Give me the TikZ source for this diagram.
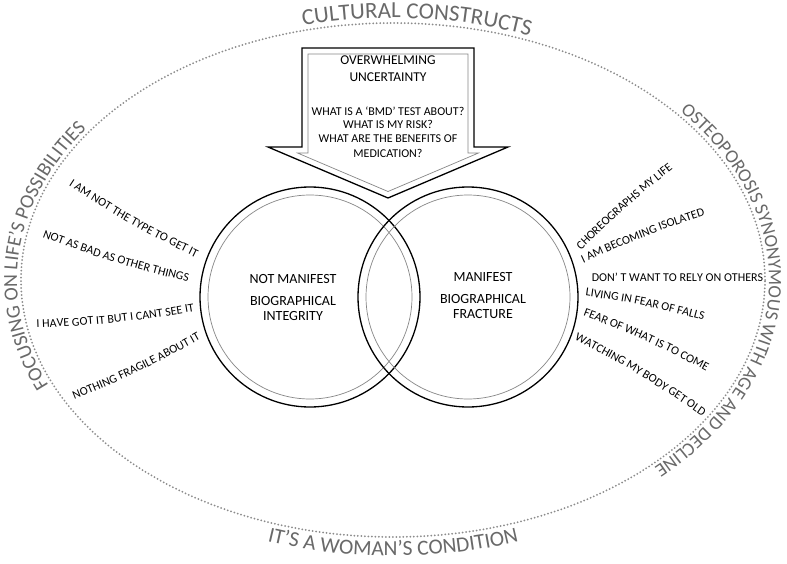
\documentclass[tikz,border=0pt]{standalone}
\usepackage{fontspec}
\setmainfont{Carlito}
\usetikzlibrary{decorations.text,calc}
\definecolor{outergray}{RGB}{105,105,105}
\definecolor{dotgray}{RGB}{140,140,140}
\definecolor{ringgray}{RGB}{135,135,135}
\newcommand\outerfont[1]{\fontsize{#1}{#1}\selectfont\color{outergray}}
\newcommand\lblfont{\fontsize{12}{12}\selectfont}
\begin{document}
\begin{tikzpicture}[x=1pt,y=1pt,
  outertext/.style 2 args={decorate, decoration={text along path, text align=center, text={|\outerfont{#1}|#2}}},
  lbltext/.style={decorate, decoration={text along path, text align=center, raise=-3.9pt, text={|\lblfont|#1}}},
  dotline/.style={draw=dotgray, line width=2pt, line cap=round, dash pattern=on 0pt off 3.5pt},
  outerline/.style={draw=black, line width=1.3pt, line join=miter},
  innerline/.style={draw=ringgray, line width=0.7pt},
  titletext/.style={anchor=base, font=\fontsize{13.5}{14}\selectfont},
  qtext/.style={anchor=base, font=\fontsize{12}{12}\selectfont},
  circtext/.style={anchor=base, font=\fontsize{14}{14}\selectfont}]
\useasboundingbox (0,0) rectangle (787,-564);
\fill[white] (0,0) rectangle (787,-564);
\coordinate (C) at (393,-280);
% dotted ellipse
\path[dotline] (C) ellipse [x radius=372, y radius=257];
% outer curved texts
\path[outertext={23}{CULTURAL CONSTRUCTS}] ($(C)+(121:378 and 262)$) arc[start angle=121, end angle=51, x radius=378, y radius=262];
\path[outertext={20}{FOCUSING ON LIFE’S POSSIBILITIES}] ($(C)+(230:376 and 261)$) arc[start angle=230, end angle=120, x radius=376, y radius=261];
\path[outertext={18.8}{OSTEOPOROSIS SYNONYMOUS WITH AGE AND DECLINE}] ($(C)+(74:376 and 261)$) arc[start angle=74, end angle=-79, x radius=376, y radius=261];
\path[outertext={21.5}{IT’S A WOMAN’S CONDITION}] ($(C)+(235:389 and 276)$) arc[start angle=235, end angle=305, x radius=389, y radius=276];
% arrow
\draw[outerline, fill=white] (302,-48) -- (474,-48) -- (474,-147) -- (508,-147) -- (388,-198) -- (268,-147) -- (302,-147) -- cycle;
\draw[innerline] (308,-54) -- (468,-54) -- (468,-153) -- (478.5,-153) -- (388,-191.5) -- (297.5,-153) -- (308,-153) -- cycle;
\node[titletext] (t1) at (388,-64.5) {OVERWHELMING};
\node[titletext] (t2) at (388,-81.5) {UNCERTAINTY};
\node[qtext] (q1) at (388,-115.5) {WHAT IS A ‘BMD’ TEST ABOUT?};
\node[qtext] (q2) at (388,-128.5) {WHAT IS MY RISK?};
\node[qtext] (q3) at (388,-143) {WHAT ARE THE BENEFITS OF};
\node[qtext] (q4) at (388,-157.5) {MEDICATION?};
% circles
\draw[outerline] (310,-297) circle [radius=110];
\draw[innerline] (310,-297) circle [radius=102];
\draw[outerline] (468,-297) circle [radius=110];
\draw[innerline] (468,-297) circle [radius=102];
\node[circtext] (l1) at (293,-283.5) {NOT MANIFEST};
\node[circtext] (l2) at (293,-305.5) {BIOGRAPHICAL};
\node[circtext] (l3) at (293,-320.5) {INTEGRITY};
\node[circtext] (r1) at (483,-281.5) {MANIFEST};
\node[circtext] (r2) at (483,-303.5) {BIOGRAPHICAL};
\node[circtext] (r3) at (483,-318.5) {FRACTURE};
% left labels
\path[lbltext={I AM NOT THE TYPE TO GET IT}] (61.6,-176.1) to[bend right=4] (207.4,-258.9);
\path[lbltext={NOT AS BAD AS OTHER THINGS}] (33.5,-229.5) to[bend right=4] (199.5,-280.5);
\path[lbltext={I HAVE GOT IT BUT I CANT SEE IT}] (26.1,-324.2) to[bend right=4] (203.9,-305.8);
\path[lbltext={NOTHING FRAGILE ABOUT IT}] (62.2,-400.2) to[bend right=4] (208.8,-329.8);
% right labels
\path[lbltext={CHOREOGRAPHS MY LIFE}] (568,-258) to[bend left=4] (682,-157);
\path[lbltext={I AM BECOMING ISOLATED}] (571.8,-264.4) to[bend left=4] (714.2,-208.6);
\path[lbltext={DON’ T WANT TO RELY ON OTHERS}] (573,-278) -- (782,-278);
\path[lbltext={LIVING IN FEAR OF FALLS}] (575.3,-290.6) to[bend left=4] (714.7,-319.4);
\path[lbltext={FEAR OF WHAT IS TO COME}] (574,-308) to[bend left=4] (718,-373);
\path[lbltext={WATCHING MY BODY GET OLD}] (566.7,-330.8) to[bend left=4] (713.3,-419.2);
\end{tikzpicture}
\end{document}
